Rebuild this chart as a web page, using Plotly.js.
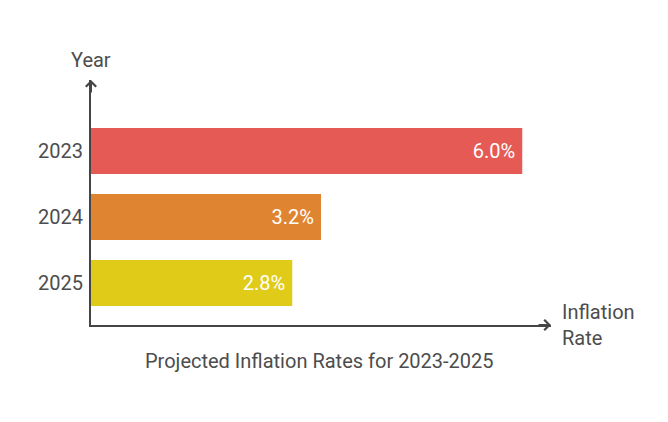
<!DOCTYPE html>
<html>
<head>
<meta charset="utf-8">
<script src="https://cdn.plot.ly/plotly-3.0.1.min.js"></script>
<style>html,body{margin:0;padding:0;background:#fff;}#chart{width:668px;height:422px;}</style>
</head>
<body>
<div id="chart"></div>
<script>
const years = ['2023', '2024', '2025'];
const rates = [6.0, 3.2, 2.8];
const labels = ['6.0%', '3.2%', '2.8%'];
const colors = ['#E55A55', '#DF8431', '#E0CC18'];

const axisColor = '#454545';
const textColor = '#4d4d4d';
const fontFam = 'Roboto, "Open Sans", sans-serif';
const fs = 20;

const trace = {
  type: 'bar',
  orientation: 'h',
  y: years,
  x: rates,
  text: labels,
  texttemplate: '%{text}\u2009',
  textposition: 'inside',
  insidetextanchor: 'end',
  textfont: {color: '#ffffff', size: fs, family: fontFam},
  marker: {color: colors},
  width: 0.7,
  hoverinfo: 'none',
  cliponaxis: false
};

const layout = {
  width: 668, height: 422,
  margin: {l: 91, r: 117, t: 80, b: 97, pad: 0},
  paper_bgcolor: '#ffffff', plot_bgcolor: '#ffffff',
  showlegend: false,
  font: {family: fontFam, color: textColor, size: fs},
  xaxis: {
    range: [0, 6.4], showgrid: false, zeroline: false,
    showticklabels: false, ticks: '',
    showline: true, linecolor: axisColor, linewidth: 2
  },
  yaxis: {
    type: 'category', range: [2.636, -1.076],
    showgrid: false, zeroline: false, ticks: '',
    showline: true, linecolor: axisColor, linewidth: 2,
    tickfont: {size: fs, color: textColor, family: fontFam},
    ticklabelstandoff: 2
  },
  annotations: [
    {xref: 'paper', yref: 'paper', x: 1, y: 0, ax: -14, ay: 0, text: '', showarrow: true,
     arrowhead: 4, arrowsize: 1, arrowwidth: 2, arrowcolor: axisColor},
    {xref: 'paper', yref: 'paper', x: 0, y: 1, ax: 0, ay: 14, text: '', showarrow: true,
     arrowhead: 4, arrowsize: 1, arrowwidth: 2, arrowcolor: axisColor},
    {xref: 'paper', yref: 'paper', x: 0, y: 1, yshift: 6, text: 'Year', showarrow: false,
     xanchor: 'center', yanchor: 'bottom', font: {size: fs, color: textColor, family: fontFam}},
    {xref: 'paper', yref: 'paper', x: 1, y: 0, xshift: 9, text: 'Inflation<br>Rate', showarrow: false,
     xanchor: 'left', yanchor: 'middle', align: 'left', font: {size: fs, color: textColor, family: fontFam}},
    {xref: 'paper', yref: 'paper', x: 0.496, y: 0, yshift: -22, text: 'Projected Inflation Rates for 2023-2025', showarrow: false,
     xanchor: 'center', yanchor: 'top', font: {size: fs, color: textColor, family: fontFam}}
  ]
};

Plotly.newPlot('chart', [trace], layout, {displayModeBar: false, staticPlot: true});
</script>
</body>
</html>
